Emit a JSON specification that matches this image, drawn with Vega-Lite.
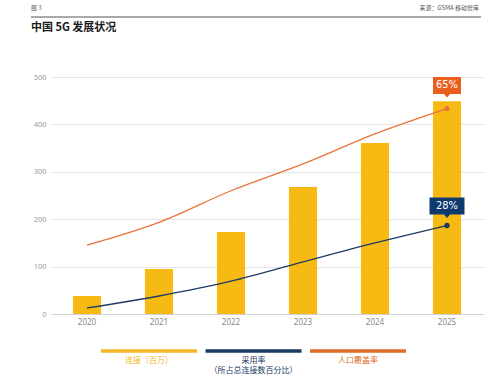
{
  "$schema": "https://vega.github.io/schema/vega-lite/v6.json",
  "background": "white",
  "padding": {"left": 30, "top": 5, "right": 5, "bottom": 0},
  "config": {
    "font": "Noto Sans CJK SC",
    "view": {"stroke": null},
    "title": {"font": "Noto Sans CJK SC"}
  },
  "datasets": {
    "conn": [
      {"year": "2020", "connections": 38},
      {"year": "2021", "connections": 95},
      {"year": "2022", "connections": 173},
      {"year": "2023", "connections": 268},
      {"year": "2024", "connections": 361},
      {"year": "2025", "connections": 449}
    ],
    "rates": [
      {"year": "2020", "series": "adoption", "rate": 0.019},
      {"year": "2021", "series": "adoption", "rate": 0.057},
      {"year": "2022", "series": "adoption", "rate": 0.104},
      {"year": "2023", "series": "adoption", "rate": 0.165},
      {"year": "2024", "series": "adoption", "rate": 0.225},
      {"year": "2025", "series": "adoption", "rate": 0.28},
      {"year": "2020", "series": "coverage", "rate": 0.218},
      {"year": "2021", "series": "coverage", "rate": 0.29},
      {"year": "2022", "series": "coverage", "rate": 0.39},
      {"year": "2023", "series": "coverage", "rate": 0.475},
      {"year": "2024", "series": "coverage", "rate": 0.57},
      {"year": "2025", "series": "coverage", "rate": 0.65}
    ],
    "legend": [
      {"item": "连接（百万）", "key": "conn"},
      {"item": "采用率\n（所占总连接数百分比）", "key": "adoption"},
      {"item": "人口覆盖率", "key": "coverage"}
    ],
    "header": [{"left": "图 3", "right": "来源：GSMA 移动智库"}]
  },
  "align": {"row": "none", "column": "all"},
  "bounds": "full",
  "spacing": 4,
  "resolve": {"scale": {"color": "independent"}},
  "vconcat": [
    {
      "width": 430,
      "height": 9,
      "data": {"name": "header"},
      "layer": [
        {
          "mark": {"type": "rule", "color": "#555555", "strokeWidth": 1, "xOffset": -20},
          "encoding": {
            "x": {"datum": 0, "type": "quantitative", "scale": {"domain": [0, 1]}, "axis": null},
            "x2": {"datum": 1},
            "y": {"datum": 0, "type": "quantitative", "scale": {"domain": [0, 1]}, "axis": null}
          }
        },
        {
          "mark": {"type": "text", "align": "left", "baseline": "middle", "fontSize": 6, "color": "#666666", "dx": -20},
          "encoding": {
            "x": {"datum": 0, "type": "quantitative"},
            "y": {"datum": 1, "type": "quantitative"},
            "text": {"field": "left"}
          }
        },
        {
          "mark": {"type": "text", "align": "right", "baseline": "middle", "fontSize": 6, "color": "#555555", "dx": -2},
          "encoding": {
            "x": {"datum": 1, "type": "quantitative"},
            "y": {"datum": 1, "type": "quantitative"},
            "text": {"field": "right"}
          }
        }
      ]
    },
    {
      "width": 432,
      "height": 237,
      "title": {
        "text": "中国 5G 发展状况",
        "anchor": "start",
        "frame": "bounds",
        "fontSize": 11,
        "fontWeight": "bold",
        "color": "#1a1a1a",
        "offset": 40
      },
      "resolve": {"scale": {"y": "independent"}},
      "layer": [
        {
          "data": {"name": "conn"},
          "mark": {"type": "bar", "color": "#F7BA12"},
          "encoding": {
            "x": {
              "field": "year", "type": "ordinal", "title": null,
              "scale": {"paddingInner": 0.61, "paddingOuter": 0.305},
              "axis": {"labelAngle": 0, "ticks": false, "labelFontSize": 8, "labelColor": "#888888", "labelPadding": 4, "domainColor": "#d0d0d0", "labelFont": "Noto Sans"}
            },
            "y": {
              "field": "connections", "type": "quantitative", "title": null,
              "scale": {"domain": [0, 500], "nice": false},
              "axis": {"values": [0, 100, 200, 300, 400, 500], "ticks": false, "domain": false, "gridColor": "#e4e4e4", "labelFontSize": 7.5, "labelColor": "#999999", "labelPadding": 5, "minExtent": 20, "labelFont": "Noto Sans"}
            }
          }
        },
        {
          "data": {"name": "rates"},
          "layer": [
            {
              "mark": {"type": "line", "interpolate": "monotone", "strokeWidth": 1.3},
              "encoding": {
                "x": {"field": "year", "type": "ordinal"},
                "y": {"field": "rate", "type": "quantitative", "scale": {"domain": [0, 0.75], "nice": false}, "axis": null},
                "color": {"field": "series", "type": "nominal", "scale": {"domain": ["adoption", "coverage"], "range": ["#1D3A66", "#E8743A"]}, "legend": null}
              }
            },
            {
              "transform": [{"filter": "datum.year == '2025'"}],
              "mark": {"type": "point", "filled": true, "size": 28, "opacity": 1},
              "encoding": {
                "x": {"field": "year", "type": "ordinal"},
                "y": {"field": "rate", "type": "quantitative", "axis": null},
                "color": {"field": "series", "type": "nominal", "legend": null}
              }
            },
            {
              "transform": [{"filter": "datum.year == '2025' && datum.series == 'coverage'"}],
              "mark": {"type": "point", "filled": true, "opacity": 1, "fill": "#E8601C", "strokeWidth": 0, "size": 1600, "yOffset": -23,
                "shape": "M-0.7,-0.425L0.7,-0.425L0.7,0.425L0.15,0.425L0,0.6L-0.15,0.425L-0.7,0.425Z"},
              "encoding": {
                "x": {"field": "year", "type": "ordinal"},
                "y": {"field": "rate", "type": "quantitative", "axis": null}
              }
            },
            {
              "transform": [{"filter": "datum.year == '2025' && datum.series == 'adoption'"}],
              "mark": {"type": "point", "filled": true, "opacity": 1, "fill": "#0E3A6E", "strokeWidth": 0, "size": 1600, "yOffset": -19.5,
                "shape": "M-0.875,-0.425L0.875,-0.425L0.875,0.425L0.15,0.425L0,0.6L-0.15,0.425L-0.875,0.425Z"},
              "encoding": {
                "x": {"field": "year", "type": "ordinal"},
                "y": {"field": "rate", "type": "quantitative", "axis": null}
              }
            },
            {
              "transform": [{"filter": "datum.year == '2025' && datum.series == 'coverage'"}],
              "mark": {"type": "text", "color": "white", "fontSize": 11, "font": "'DejaVu Sans Condensed', 'Liberation Sans Narrow', 'Roboto'", "baseline": "middle", "align": "center", "yOffset": -23.5},
              "encoding": {
                "x": {"field": "year", "type": "ordinal"},
                "y": {"field": "rate", "type": "quantitative", "axis": null},
                "text": {"field": "rate", "type": "quantitative", "format": ".0%"}
              }
            },
            {
              "transform": [{"filter": "datum.year == '2025' && datum.series == 'adoption'"}],
              "mark": {"type": "text", "color": "white", "fontSize": 11, "font": "'DejaVu Sans Condensed', 'Liberation Sans Narrow', 'Roboto'", "baseline": "middle", "align": "center", "yOffset": -20},
              "encoding": {
                "x": {"field": "year", "type": "ordinal"},
                "y": {"field": "rate", "type": "quantitative", "axis": null},
                "text": {"field": "rate", "type": "quantitative", "format": ".0%"}
              }
            }
          ]
        }
      ]
    },
    {
      "width": 405,
      "height": 42,
      "data": {"name": "legend"},
      "layer": [
        {
          "mark": {"type": "tick", "thickness": 3.5, "size": 96, "opacity": 1},
          "encoding": {
            "x": {"field": "item", "type": "nominal", "sort": null, "axis": null, "scale": {"paddingInner": 0, "paddingOuter": 0.438}},
            "y": {"datum": 1, "type": "quantitative", "scale": {"domain": [0, 2]}, "axis": null},
            "color": {"field": "key", "type": "nominal", "scale": {"domain": ["conn", "adoption", "coverage"], "range": ["#F2B722", "#1A3A64", "#E06A28"]}, "legend": null}
          }
        },
        {
          "mark": {"type": "text", "fontSize": 8, "lineBreak": "\n", "lineHeight": 10, "baseline": "middle", "dy": 10, "align": "center"},
          "encoding": {
            "x": {"field": "item", "type": "nominal", "sort": null, "axis": null},
            "y": {"datum": 1, "type": "quantitative", "scale": {"domain": [0, 2]}, "axis": null},
            "text": {"field": "item"},
            "color": {"field": "key", "type": "nominal", "legend": null}
          }
        }
      ]
    }
  ]
}
